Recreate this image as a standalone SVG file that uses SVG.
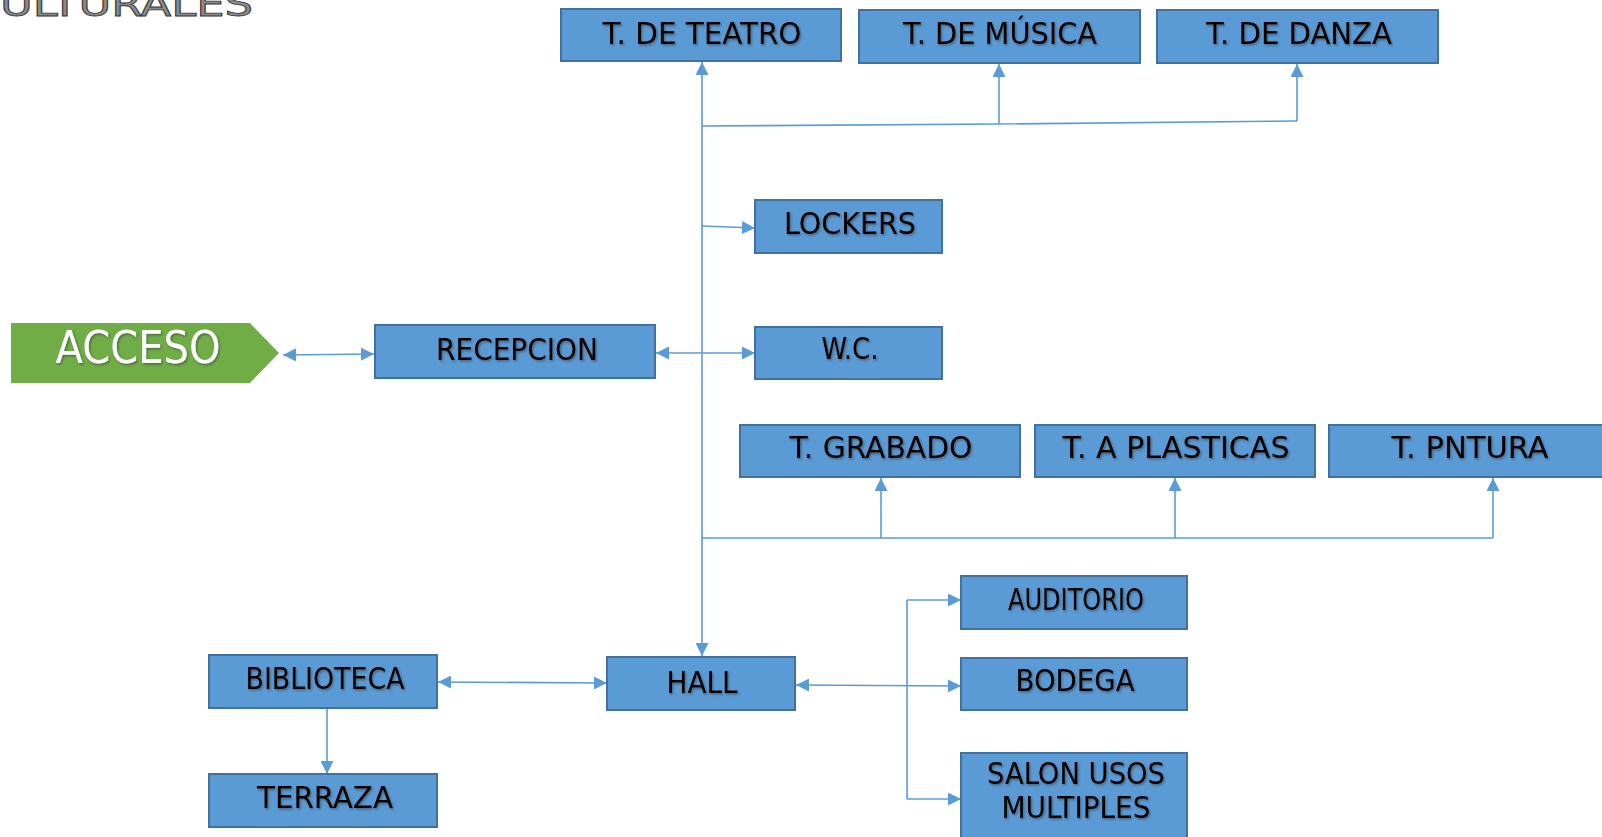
<svg xmlns="http://www.w3.org/2000/svg" width="1602" height="837" viewBox="0 0 1602 837">
<style>
.box{fill:#5B9BD5;stroke:#41719C;stroke-width:2}
.lbl{font-family:"DejaVu Sans Condensed","DejaVu Sans",sans-serif;font-size:31px;fill:#000;text-anchor:middle;filter:url(#sh)}
.con{fill:none;stroke:#5B9BD5;stroke-width:1.6}
.one{marker-end:url(#ah)}
.two{marker-start:url(#ah);marker-end:url(#ah)}
</style>
<defs>
<marker id="ah" viewBox="0 0 12 12" refX="12" refY="6" markerWidth="13" markerHeight="13" markerUnits="userSpaceOnUse" orient="auto-start-reverse">
<path d="M0,0 L12,6 L0,12 Z" fill="#5B9BD5"/>
</marker>
<filter id="sh" x="-10%" y="-20%" width="120%" height="150%">
<feDropShadow dx="1.2" dy="1.5" stdDeviation="0.8" flood-color="#333" flood-opacity="0.55"/>
</filter>
</defs>
<rect width="1602" height="837" fill="#fff"/>
<text x="0" y="16" font-family="'DejaVu Sans Condensed','DejaVu Sans',sans-serif" font-size="34" fill="#8a8a8a" stroke="#333" stroke-width="0.8" textLength="253" lengthAdjust="spacingAndGlyphs">ULTURALES</text>

<g id="connectors">
<path class="con two" d="M702,62 L702,656"/>
<path class="con" d="M702,126 L999,124 L1297,121"/>
<path class="con one" d="M999,124 L999,64"/>
<path class="con one" d="M1297,121 L1297,64"/>
<path class="con one" d="M702,226 L755,228"/>
<path class="con two" d="M656,353 L755,353"/>
<path class="con two" d="M283,355 L374,354"/>
<path class="con" d="M702,538 L1493,538"/>
<path class="con one" d="M881,538 L881,478"/>
<path class="con one" d="M1175,538 L1175,478"/>
<path class="con one" d="M1493,538 L1493,478"/>
<path class="con two" d="M438,682 L607,683"/>
<path class="con one" d="M327,708 L327,774"/>
<path class="con two" d="M796,685 L961,686"/>
<path class="con" d="M907,600 L907,799"/>
<path class="con one" d="M907,600 L961,600"/>
<path class="con one" d="M907,799 L961,799"/>
</g>

<g id="acceso">
<path d="M11,323 L250,323 L279,353 L250,383 L11,383 Z" fill="#70AD47"/>
<text x="138" y="363" font-family="'DejaVu Sans Condensed','DejaVu Sans',sans-serif" font-size="44" fill="#fff" text-anchor="middle" filter="url(#sh)" textLength="165" lengthAdjust="spacingAndGlyphs">ACCESO</text>
</g>
<g id="teatro"><rect class="box" x="561" y="9" width="280" height="52"/><text class="lbl" x="702" y="44" textLength="199" lengthAdjust="spacingAndGlyphs">T. DE TEATRO</text></g>
<g id="musica"><rect class="box" x="859" y="10" width="281" height="53"/><text class="lbl" x="1000" y="44" textLength="194" lengthAdjust="spacingAndGlyphs">T. DE MÚSICA</text></g>
<g id="danza"><rect class="box" x="1157" y="10" width="281" height="53"/><text class="lbl" x="1299" y="44" textLength="186" lengthAdjust="spacingAndGlyphs">T. DE DANZA</text></g>
<g id="lockers"><rect class="box" x="755" y="200" width="187" height="53"/><text class="lbl" x="850" y="234" textLength="132" lengthAdjust="spacingAndGlyphs">LOCKERS</text></g>
<g id="recepcion"><rect class="box" x="375" y="325" width="280" height="53"/><text class="lbl" x="517" y="360" textLength="162" lengthAdjust="spacingAndGlyphs">RECEPCION</text></g>
<g id="wc"><rect class="box" x="755" y="327" width="187" height="52"/><text class="lbl" x="850" y="359" textLength="57" lengthAdjust="spacingAndGlyphs">W.C.</text></g>
<g id="grabado"><rect class="box" x="740" y="425" width="280" height="52"/><text class="lbl" x="881" y="458" textLength="183" lengthAdjust="spacingAndGlyphs">T. GRABADO</text></g>
<g id="plasticas"><rect class="box" x="1035" y="425" width="280" height="52"/><text class="lbl" x="1176" y="458" textLength="227" lengthAdjust="spacingAndGlyphs">T. A PLASTICAS</text></g>
<g id="pintura"><rect class="box" x="1329" y="425" width="285" height="52"/><text class="lbl" x="1470" y="458" textLength="157" lengthAdjust="spacingAndGlyphs">T. PNTURA</text></g>
<g id="auditorio"><rect class="box" x="961" y="576" width="226" height="53"/><text class="lbl" x="1076" y="610" textLength="136" lengthAdjust="spacingAndGlyphs">AUDITORIO</text></g>
<g id="bodega"><rect class="box" x="961" y="658" width="226" height="52"/><text class="lbl" x="1075" y="691" textLength="119" lengthAdjust="spacingAndGlyphs">BODEGA</text></g>
<g id="salon"><rect class="box" x="961" y="753" width="226" height="95"/><text class="lbl" x="1076" y="784" textLength="178" lengthAdjust="spacingAndGlyphs">SALON USOS</text><text class="lbl" x="1076" y="818" textLength="149" lengthAdjust="spacingAndGlyphs">MULTIPLES</text></g>
<g id="hall"><rect class="box" x="607" y="657" width="188" height="53"/><text class="lbl" x="702" y="693" textLength="71" lengthAdjust="spacingAndGlyphs">HALL</text></g>
<g id="biblioteca"><rect class="box" x="209" y="655" width="228" height="53"/><text class="lbl" x="325" y="689" textLength="159" lengthAdjust="spacingAndGlyphs">BIBLIOTECA</text></g>
<g id="terraza"><rect class="box" x="209" y="774" width="228" height="53"/><text class="lbl" x="325" y="808" textLength="136" lengthAdjust="spacingAndGlyphs">TERRAZA</text></g>
</svg>
